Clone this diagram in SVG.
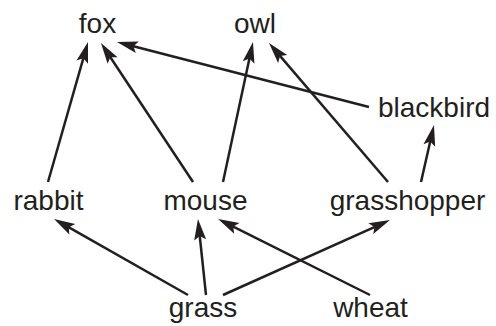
<svg xmlns="http://www.w3.org/2000/svg" width="496" height="326" viewBox="0 0 496 326">
<style>
text{font-family:"Liberation Sans",Arial,sans-serif;font-size:28px;fill:#231f20;text-anchor:middle}
.e{stroke:#231f20;stroke-width:2.5;fill:none;marker-end:url(#ah)}
</style>
<defs>
<marker id="ah" viewBox="-14 -7 23 14" refX="0" refY="0" markerWidth="23" markerHeight="14" markerUnits="userSpaceOnUse" orient="auto">
<path d="M8,0 L-13,-6 L-9,0 L-13,6 Z" fill="#231f20"/>
</marker>
</defs>
<rect width="496" height="326" fill="#fff"/>
<g id="connectors">
<path class="e" d="M48,182 L85.8,49.7"/>
<path class="e" d="M193,182 L105.4,49.7"/>
<path class="e" d="M223,182 L251.3,49.8"/>
<path class="e" d="M369,107 L124.7,44"/>
<path class="e" d="M388,182 L274.2,49.1"/>
<path class="e" d="M421,182 L432.2,132.8"/>
<path class="e" d="M188,295 L61,222.9"/>
<path class="e" d="M206,295 L198.8,227"/>
<path class="e" d="M370,295 L225.2,222.6"/>
<path class="e" d="M223,295 L382.7,223.3"/>
</g>
<g id="fox"><text x="97.5" y="33">fox</text></g>
<g id="owl"><text x="255" y="33">owl</text></g>
<g id="blackbird"><text x="434" y="117">blackbird</text></g>
<g id="rabbit"><text x="48.5" y="210">rabbit</text></g>
<g id="mouse"><text x="205.5" y="210">mouse</text></g>
<g id="grasshopper"><text x="407.5" y="210">grasshopper</text></g>
<g id="grass"><text x="203" y="317">grass</text></g>
<g id="wheat"><text x="370.5" y="317">wheat</text></g>
</svg>
